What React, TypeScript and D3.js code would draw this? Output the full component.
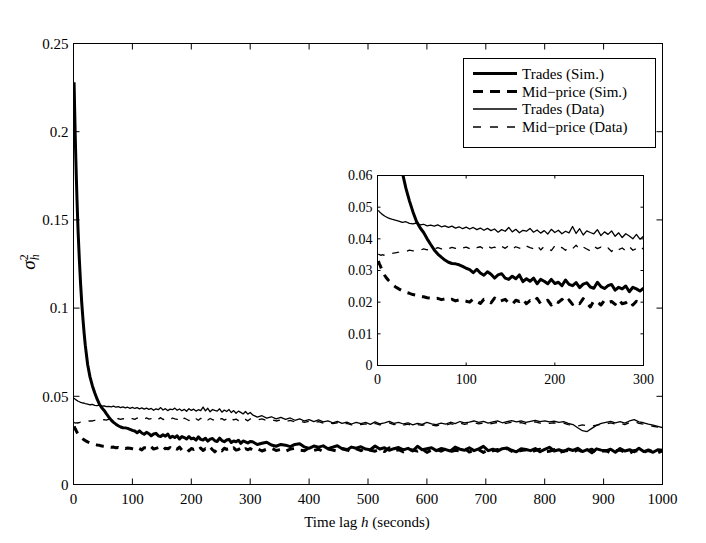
import React from "react";
import * as d3 from "d3";

// ---------- data ----------
const earlyLags = [1, 2, 3, 4, 5, 6, 7, 8, 10, 12, 14, 16, 18, 20];
const midLags = d3.range(24, 301, 4); // 70 lags
const lateLags = d3.range(304, 1001, 8); // 88 lags
const lags = [...earlyLags, ...midLags, ...lateLags];

const mainXTicks = [0, 100, 200, 300, 400, 500, 600, 700, 800, 900, 1000];
const mainYTicks = [0, 0.05, 0.1, 0.15, 0.2, 0.25];
const mainYLabels = ["0", "0.05", "0.1", "0.15", "0.2", "0.25"];
const insetXTicks = [0, 100, 200, 300];
const insetYTicks = [0, 0.01, 0.02, 0.03, 0.04, 0.05, 0.06];
const insetYLabels = ["0", "0.01", "0.02", "0.03", "0.04", "0.05", "0.06"];

// values in units of 1e-4 for the noisy segments
const tradesSimEarly = [0.228, 0.212, 0.197, 0.184, 0.172, 0.161, 0.151, 0.142, 0.127, 0.114, 0.103, 0.094, 0.086, 0.079];
const tradesSimMid = [
  680, 610, 560, 520, 485, 455, 435, 420, 400, 382,
  365, 352, 342, 333, 326, 322, 321, 318, 313, 307,
  303, 293, 304, 292, 285, 296, 288, 276, 286, 290,
  276, 272, 282, 274, 286, 265, 274, 266, 276, 258,
  272, 266, 258, 272, 259, 263, 252, 270, 256, 252,
  262, 246, 257, 261, 248, 244, 263, 249, 243, 252,
  256, 238, 247, 242, 251, 233, 247, 242, 235, 244,
];
const tradesSimLate = [
  242, 227, 234, 240, 224, 217, 227, 223, 215, 227,
  231, 213, 205, 218, 212, 219, 203, 212, 220, 203,
  195, 212, 206, 214, 201, 197, 218, 201, 208, 194,
  203, 210, 196, 205, 190, 217, 197, 203, 208, 192,
  204, 198, 190, 212, 200, 194, 208, 192, 202, 216,
  192, 200, 189, 203, 207, 194, 185, 203, 198, 192,
  204, 186, 199, 211, 190, 197, 187, 201, 193, 205,
  187, 198, 180, 202, 195, 190, 200, 183, 204, 190,
  197, 186, 205, 187, 192, 183, 197, 194,
];

const midSimEarly = [0.033, 0.0322, 0.0316, 0.0309, 0.0302, 0.0296, 0.029, 0.0285, 0.0277, 0.027, 0.0264, 0.0258, 0.0253, 0.0249];
const midSimMid = [
  242, 236, 231, 228, 224, 222, 218, 217, 214, 213,
  211, 212, 208, 210, 206, 209, 204, 207, 205, 203,
  200, 210, 203, 196, 209, 206, 198, 213, 201, 205,
  209, 197, 193, 206, 202, 210, 195, 205, 200, 212,
  195, 202, 206, 191, 204, 199, 209, 197, 207, 193,
  202, 195, 211, 197, 185, 204, 201, 191, 206, 199,
  202, 193, 208, 195, 198, 206, 191, 203, 197, 204,
];
const midSimLate = [
  195, 204, 190, 200, 207, 193, 199, 188, 201, 204,
  195, 191, 208, 193, 200, 187, 201, 196, 189, 204,
  198, 185, 202, 192, 205, 194, 189, 199, 187, 208,
  192, 197, 185, 199, 195, 189, 202, 182, 196, 199,
  189, 202, 186, 194, 190, 204, 184, 194, 197, 182,
  196, 191, 198, 185, 205, 188, 183, 193, 197, 181,
  193, 200, 185, 188, 198, 179, 190, 193, 183, 198,
  186, 191, 200, 181, 187, 193, 179, 191, 195, 184,
  177, 193, 189, 182, 196, 185, 180, 191,
];

const tradesDataEarly = [0.049, 0.0486, 0.0483, 0.0481, 0.0478, 0.0476, 0.0474, 0.0472, 0.0469, 0.0466, 0.0464, 0.0462, 0.0461, 0.0459];
const tradesDataMid = [
  456, 452, 454, 449, 447, 450, 444, 446, 441, 443,
  440, 444, 438, 441, 436, 440, 434, 438, 432, 437,
  431, 436, 429, 434, 427, 433, 426, 431, 421, 429,
  424, 436, 422, 430, 419, 427, 424, 433, 421, 428,
  418, 426, 415, 430, 420, 427, 416, 424, 419, 439,
  417, 432, 412, 425, 420, 416, 429, 410, 422, 414,
  425, 408, 419, 404, 416, 409, 400, 414, 399, 408,
];
const tradesDataLate = [
  395, 382, 390, 376, 384, 372, 380, 369, 377, 364,
  372, 360, 368, 357, 366, 355, 361, 350, 358, 346,
  354, 343, 352, 345, 352, 341, 355, 344, 350, 358,
  346, 352, 343, 350, 338, 347, 341, 352, 344, 340,
  348, 342, 353, 345, 357, 349, 354, 360, 352, 358,
  348, 355, 361, 350, 356, 362, 355, 360, 352, 358,
  364, 357, 361, 355, 359, 352, 356, 347, 340, 322,
  305, 300, 318, 335, 346, 352, 358, 350, 356, 348,
  360, 368, 355, 350, 342, 336, 330, 322,
];

const midDataEarly = [0.0352, 0.035, 0.0349, 0.0348, 0.0349, 0.035, 0.0348, 0.035, 0.0351, 0.0353, 0.0352, 0.0354, 0.0355, 0.0356];
const midDataMid = [
  358, 361, 360, 364, 362, 366, 364, 368, 365, 370,
  367, 372, 368, 374, 369, 373, 370, 376, 371, 374,
  369, 377, 372, 375, 368, 378, 371, 374, 367, 376,
  370, 379, 368, 375, 371, 366, 377, 372, 369, 380,
  365, 376, 370, 363, 378, 368, 373, 364, 375, 369,
  380, 366, 374, 368, 362, 377, 369, 374, 365, 371,
  360, 373, 366, 371, 362, 375, 364, 369, 361, 372,
];
const midDataLate = [
  370, 365, 372, 362, 368, 360, 366, 357, 363, 355,
  361, 352, 358, 350, 356, 348, 353, 345, 350, 341,
  347, 338, 345, 339, 344, 336, 346, 338, 343, 349,
  339, 344, 336, 342, 332, 340, 335, 344, 337, 333,
  340, 335, 345, 338, 348, 341, 346, 351, 344, 349,
  340, 347, 352, 342, 348, 353, 347, 351, 344, 349,
  355, 348, 352, 347, 350, 344, 348, 340, 336, 332,
  338, 334, 330, 337, 340, 344, 349, 342, 347, 340,
  351, 357, 347, 342, 336, 330, 325, 318,
];

const seriesNames = ["Trades (Sim.)", "Mid\u2212price (Sim.)", "Trades (Data)", "Mid\u2212price (Data)"];

// ---------- styling ----------
const FONT = "'Liberation Serif', 'Times New Roman', 'DejaVu Serif', serif";
const styles = [
  { width: 3, dash: "none" },
  { width: 3, dash: "8 7" },
  { width: 1.3, dash: "none" },
  { width: 1.3, dash: "7 8" },
];

type Pt = [number, number];

function buildSeries(): Pt[][] {
  const u = (a: number[]) => a.map((v) => v / 10000);
  const vals = [
    [...tradesSimEarly, ...u(tradesSimMid), ...u(tradesSimLate)],
    [...midSimEarly, ...u(midSimMid), ...u(midSimLate)],
    [...tradesDataEarly, ...u(tradesDataMid), ...u(tradesDataLate)],
    [...midDataEarly, ...u(midDataMid), ...u(midDataLate)],
  ];
  return vals.map((v) => v.slice(0, lags.length).map((y, i) => [lags[i], y] as Pt));
}

function Axes(props: {
  id: string;
  x0: number; x1: number; y0: number; y1: number;
  xDomain: [number, number]; yDomain: [number, number];
  xTicks: number[]; yTicks: number[]; yLabels: string[];
  tickLen: number; fontSize: number;
  series: Pt[][];
  maxLag: number;
  xLabelOffset: number;
}) {
  const { id, x0, x1, y0, y1, xDomain, yDomain, xTicks, yTicks, yLabels, tickLen, fontSize, series, maxLag, xLabelOffset } = props;
  const x = d3.scaleLinear().domain(xDomain).range([x0, x1]);
  const y = d3.scaleLinear().domain(yDomain).range([y0, y1]);
  const line = d3.line<Pt>().x((d) => x(d[0])).y((d) => y(d[1]));
  const order = [2, 3, 1, 0];
  return (
    <g>
      <defs>
        <clipPath id={id}>
          <rect x={x0} y={y1} width={x1 - x0} height={y0 - y1} />
        </clipPath>
      </defs>
      <rect x={x0} y={y1} width={x1 - x0} height={y0 - y1} fill="#fff" />
      <g clipPath={`url(#${id})`}>
        {order.map((k) => (
          <path
            key={k}
            d={line(series[k].filter((p) => p[0] <= maxLag)) || ""}
            fill="none"
            stroke="#000"
            strokeWidth={styles[k].width}
            strokeDasharray={styles[k].dash}
            strokeLinejoin="round"
          />
        ))}
      </g>
      {xTicks.map((t) => (
        <g key={"x" + t}>
          <line x1={x(t)} x2={x(t)} y1={y0} y2={y0 - tickLen} stroke="#000" strokeWidth={1} />
          <line x1={x(t)} x2={x(t)} y1={y1} y2={y1 + tickLen} stroke="#000" strokeWidth={1} />
          <text x={x(t)} y={y0 + xLabelOffset} textAnchor="middle" fontFamily={FONT} fontSize={fontSize}>
            {t}
          </text>
        </g>
      ))}
      {yTicks.map((t, i) => (
        <g key={"y" + t}>
          <line x1={x0} x2={x0 + tickLen} y1={y(t)} y2={y(t)} stroke="#000" strokeWidth={1} />
          <line x1={x1} x2={x1 - tickLen} y1={y(t)} y2={y(t)} stroke="#000" strokeWidth={1} />
          <text x={x0 - 5} y={y(t)} dy="0.35em" textAnchor="end" fontFamily={FONT} fontSize={fontSize}>
            {yLabels[i]}
          </text>
        </g>
      ))}
      <rect x={x0} y={y1} width={x1 - x0} height={y0 - y1} fill="none" stroke="#000" strokeWidth={1} />
    </g>
  );
}

export default function App() {
  const series = buildSeries();
  const legendX = 463.5;
  const legendY = 58.5;
  const rowY = [73.5, 91.5, 109, 127];
  return (
    <svg
      width={706}
      height={543}
      viewBox="0 0 706 543"
      style={{ position: "absolute", left: 0, top: 0, background: "#fff" }}
    >
      <rect x={0} y={0} width={706} height={543} fill="#fff" />
      <Axes
        id="mainClip"
        x0={73.5} x1={662.5} y0={484.5} y1={43.5}
        xDomain={[0, 1000]} yDomain={[0, 0.25]}
        xTicks={mainXTicks} yTicks={mainYTicks} yLabels={mainYLabels}
        tickLen={6} fontSize={15}
        series={series} maxLag={1000}
        xLabelOffset={19}
      />
      <Axes
        id="insetClip"
        x0={377.5} x1={643.5} y0={365.5} y1={175.5}
        xDomain={[0, 300]} yDomain={[0, 0.06]}
        xTicks={insetXTicks} yTicks={insetYTicks} yLabels={insetYLabels}
        tickLen={3} fontSize={14}
        series={series} maxLag={300}
        xLabelOffset={18}
      />
      {/* legend */}
      <rect x={legendX} y={legendY} width={192} height={89} fill="#fff" stroke="#000" strokeWidth={1} />
      {seriesNames.map((name, i) => (
        <g key={name}>
          <line
            x1={473} x2={517} y1={rowY[i]} y2={rowY[i]}
            stroke="#000"
            strokeWidth={styles[i].width}
            strokeDasharray={i === 1 ? "10 7" : i === 3 ? "8 9" : "none"}
          />
          <text x={522} y={rowY[i]} dy="0.35em" fontFamily={FONT} fontSize={15}>
            {name}
          </text>
        </g>
      ))}
      {/* axis labels */}
      <text x={367} y={527} textAnchor="middle" fontFamily={FONT} fontSize={15}>
        Time lag <tspan fontStyle="italic">h</tspan> (seconds)
      </text>
      <text transform="translate(35,262) rotate(-90)" textAnchor="middle" fontFamily={FONT} fontSize={19}>
        <tspan fontStyle="italic">σ</tspan>
        <tspan fontStyle="italic" fontSize={12} dy={4}>h</tspan>
        <tspan fontSize={12} dx={-6} dy={-11}>2</tspan>
      </text>
    </svg>
  );
}
